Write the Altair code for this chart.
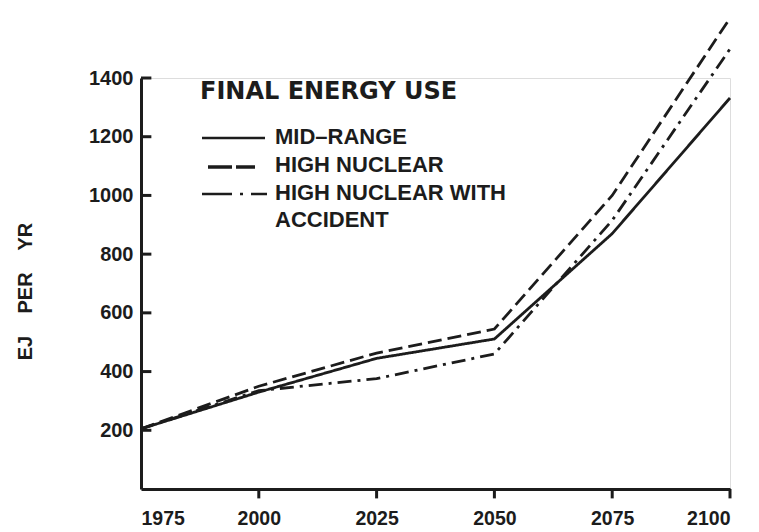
import altair as alt
import pandas as pd

years = [1975, 2000, 2025, 2050, 2075, 2100]
mid_range = [205, 330, 445, 511, 870, 1332]
high_nuclear = [205, 350, 463, 545, 1000, 1604]
high_nuclear_accident = [205, 335, 376, 460, 915, 1499]

series_names = ["MID\u2013RANGE", "HIGH NUCLEAR", "HIGH NUCLEAR WITH ACCIDENT"]
legend_title = "FINAL ENERGY USE"
legend_lines = ["MID\u2013RANGE", "HIGH NUCLEAR", "HIGH NUCLEAR WITH", "ACCIDENT"]
y_title = "EJ\u00a0\u00a0\u00a0 PER\u00a0\u00a0\u00a0 YR"
y_ticks = [200, 400, 600, 800, 1000, 1200, 1400]
x_ticks = [2000, 2025, 2050, 2075, 2100]

rows = []
for name, vals in zip(series_names, [mid_range, high_nuclear, high_nuclear_accident]):
    for yr, v in zip(years, vals):
        rows.append({"year": yr, "value": v, "series": name})
df = pd.DataFrame(rows)

FONT = "Liberation Sans"
TFONT = "DejaVu Sans"
INK = "#1c1c1c"
DASHES = [[1, 0], [14, 6], [14, 6, 3, 6]]

xscale = alt.Scale(domain=[1975, 2100], nice=False, zero=False)
yscale = alt.Scale(domain=[0, 1400], nice=False)

lines = alt.Chart(df).mark_line(strokeWidth=2.8, color=INK, strokeCap="butt").encode(
    x=alt.X("year:Q", scale=xscale,
            axis=alt.Axis(title=None, values=years, format="d", ticks=False, grid=False,
                          domainColor=INK, domainWidth=3, labelFont=FONT, labelFontSize=19.5,
                          labelFontWeight="bold", labelColor=INK, labelPadding=20)),
    y=alt.Y("value:Q", scale=yscale,
            axis=alt.Axis(title=y_title, values=y_ticks, format="d", ticks=False,
                          grid=False, domainColor=INK, domainWidth=3, labelFont=FONT,
                          labelFontSize=20, labelFontWeight="bold", labelColor=INK,
                          labelPadding=8, titleFont=FONT, titleFontSize=20,
                          titleFontWeight="bold", titleColor=INK, titlePadding=53,
                          titleY=213)),
    strokeDash=alt.StrokeDash("series:N",
                              scale=alt.Scale(domain=series_names, range=DASHES),
                              legend=None),
    order="year:Q",
)

ytick_df = pd.DataFrame({"v": y_ticks, "x0": [1975] * len(y_ticks), "x1": [1977.2] * len(y_ticks)})
ytick_rules = alt.Chart(ytick_df).mark_rule(strokeWidth=3, color=INK).encode(
    x="x0:Q", x2="x1:Q", y="v:Q"
)

xtick_df = pd.DataFrame({"yr": x_ticks, "y0": [0] * len(x_ticks), "y1": [-32] * len(x_ticks)})
xtick_rules = alt.Chart(xtick_df).mark_rule(strokeWidth=3, color=INK).encode(
    x="yr:Q", y="y0:Q", y2="y1:Q"
)

# hand-drawn legend block (as in the original figure)
base = alt.Chart(pd.DataFrame({"k": [0]}))
leg = [
    base.mark_text(text=legend_title, font=TFONT, fontSize=24, fontWeight="bold", color=INK,
                   align="left", baseline="middle").encode(x=alt.value(59), y=alt.value(14)),
]
label_y = [59, 87, 115, 142]
for txt, yy in zip(legend_lines, label_y):
    leg.append(base.mark_text(text=txt, font=FONT, fontSize=22, fontWeight="bold", color=INK,
                              align="left", baseline="middle").encode(
        x=alt.value(134), y=alt.value(yy)))
sym_specs = [(61, 124, 60, [1, 0], 2.6), (67, 114, 89, [24, 4, 20], 3.4),
             (61, 126, 116, [30, 8, 3, 8, 16], 2.6)]
for x0, x1, yy, dash, sw in sym_specs:
    leg.append(base.mark_rule(color=INK, strokeWidth=sw, strokeDash=dash, strokeCap="butt").encode(
        x=alt.value(x0), x2=alt.value(x1), y=alt.value(yy)))

chart = alt.layer(lines, ytick_rules, xtick_rules, *leg).properties(
    width=589, height=411,
    padding={"left": 7, "top": 4, "right": 10, "bottom": 0},
).configure_view(stroke=None).configure(background="white")

chart.save("out.html", embed_options={"renderer": "svg", "actions": False})
